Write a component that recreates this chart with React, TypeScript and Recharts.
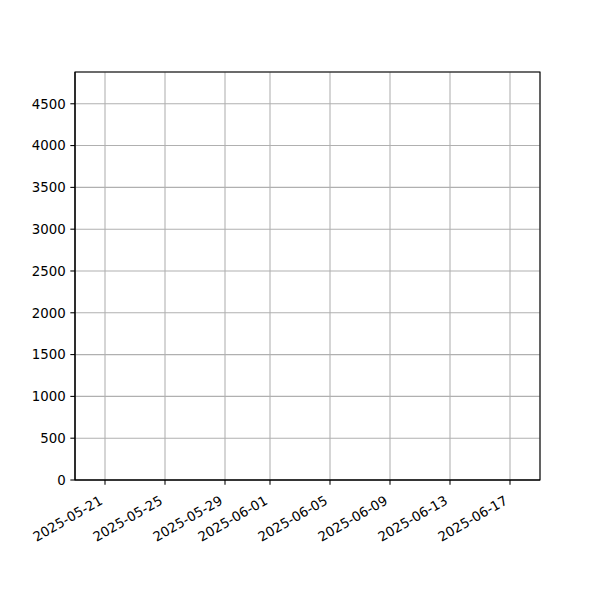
import React from 'react';
import { ComposedChart, Line, XAxis, YAxis, CartesianGrid, ReferenceArea } from 'recharts';

const dateTicks = ['2025-05-21', '2025-05-25', '2025-05-29', '2025-06-01', '2025-06-05', '2025-06-09', '2025-06-13', '2025-06-17'];
const dateRange = ['2025-05-19', '2025-06-19'];
const valueTicks = [0, 500, 1000, 1500, 2000, 2500, 3000, 3500, 4000, 4500];
const valueMax = 4880;
// the series is empty: the plot shows only the axes and grid
const values: (number | null)[] = [null, null];

const toTime = (d: string) => Date.parse(d + 'T00:00:00Z');
const fmtDate = (t: number) => new Date(t).toISOString().slice(0, 10);

const data = dateRange.map((d, i) => ({ t: toTime(d), value: values[i] }));

const FONT = '"DejaVu Sans", sans-serif';

function DateTick(props: any) {
  const { x, y, payload } = props;
  return (
    <g transform={`translate(${x - 1.5},${y + 16.5})`}>
      <text x={0} y={0} textAnchor="end" transform="rotate(-30)" fontFamily={FONT} fontSize={13.33} fill="#000">
        {fmtDate(payload.value)}
      </text>
    </g>
  );
}

export default function App() {
  const x0 = toTime(dateRange[0]);
  const x1 = toTime(dateRange[1]);
  return (
    <div style={{ position: 'absolute', left: 0, top: 0, width: 600, height: 600, background: '#fff' }}>
      <ComposedChart width={600} height={600} data={data} margin={{ top: 72, right: 60, bottom: 60, left: 25 }}>
        <CartesianGrid stroke="#b0b0b0" strokeWidth={1.07} />
        <XAxis
          dataKey="t"
          type="number"
          domain={[x0, x1]}
          ticks={dateTicks.map(toTime)}
          allowDataOverflow
          height={60}
          axisLine={{ stroke: '#000', strokeWidth: 1.07 }}
          tickLine={{ stroke: '#000', strokeWidth: 1.07 }}
          tickSize={4.67}
          tick={<DateTick />}
          interval={0}
        />
        <YAxis
          type="number"
          domain={[0, valueMax]}
          ticks={valueTicks}
          allowDataOverflow
          width={50}
          axisLine={{ stroke: '#000', strokeWidth: 1.07 }}
          tickLine={{ stroke: '#000', strokeWidth: 1.07 }}
          tickSize={4.67}
          tickMargin={4.67}
          interval={0}
          tick={{ fill: '#000', fontSize: 13.33, fontFamily: FONT }}
        />
        <ReferenceArea x1={x0} x2={x1} y1={0} y2={valueMax} fill="none" stroke="#000" strokeWidth={1.07} />
        <Line dataKey="value" stroke="#1f77b4" dot={false} isAnimationActive={false} />
      </ComposedChart>
    </div>
  );
}
